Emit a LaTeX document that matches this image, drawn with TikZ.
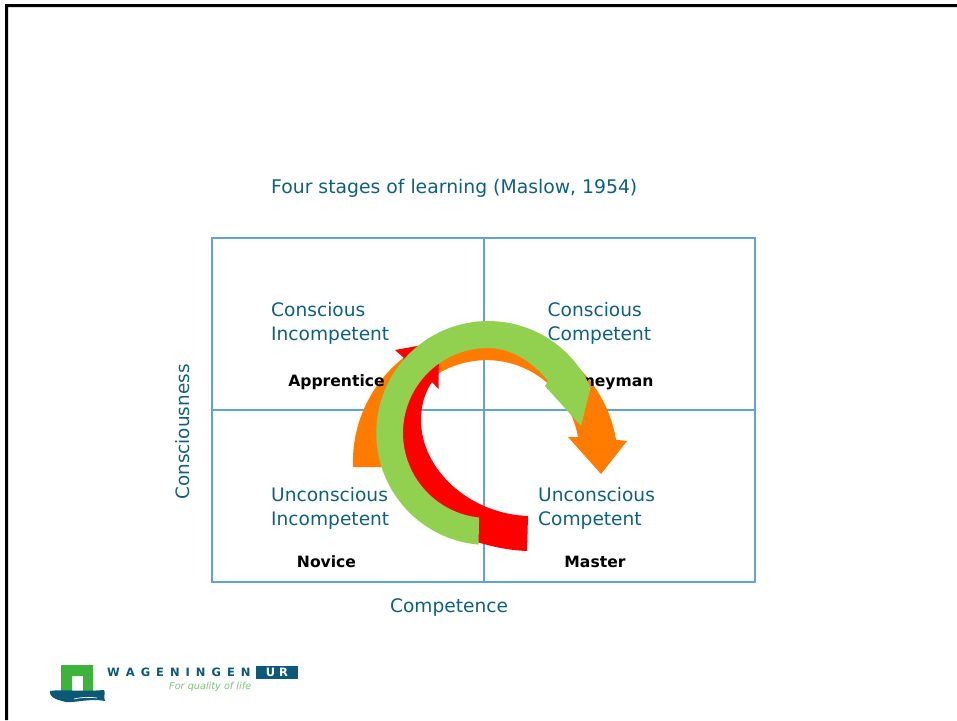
\documentclass[tikz,border=0pt]{standalone}
\usepackage{fontspec}
\setmainfont{DejaVu Sans}
\definecolor{teal1}{HTML}{0F5F80}
\definecolor{grid1}{HTML}{5FA3DA}
\definecolor{garrow}{HTML}{92D050}
\definecolor{oarrow}{HTML}{FF7C00}
\definecolor{logoblue}{HTML}{0B5877}
\definecolor{logogreen}{HTML}{3DB33C}
\definecolor{logolight}{HTML}{7CC47A}
\tikzset{
  lab/.style={text=teal1,font=\fontsize{18.6}{24}\selectfont,anchor=west,align=left,inner sep=0pt},
  rolelab/.style={text=black,font=\bfseries\fontsize{15.6}{18}\selectfont,inner sep=0pt},
}
\begin{document}
\begin{tikzpicture}[x=1pt,y=-1pt]
\useasboundingbox (0,0) rectangle (957,720);
\fill[white] (0,0) rectangle (957,720);
\fill[black] (957,4) -- (5,4) -- (5,720) -- (8,720) -- (8,7) -- (957,7) -- cycle;
% grid
\draw[grid1,line width=2.2pt] (212,238) rectangle (755,582);
\draw[grid1,line width=1.4pt] (484,238) -- (484,582) (212,410) -- (755,410);
% texts
\node[lab,font=\fontsize{18.8}{24}\selectfont] (title) at (271,188) {Four stages of learning (Maslow, 1954)};
\node[lab] (ci) at (271,323) {Conscious\\Incompetent};
\node[lab] (cc) at (547.5,323) {Conscious\\Competent};
\node[lab] (ui) at (271,508) {Unconscious\\Incompetent};
\node[lab] (uc) at (538,508) {Unconscious\\Competent};
\node[lab,anchor=center] (compt) at (449,607.5) {Competence};
\node[lab,anchor=center,rotate=90,font=\fontsize{18.4}{24}\selectfont] (cons) at (183,432) {Consciousness};
% orange arrow
\fill[oarrow] (353,467) arc[start angle=177.8,end angle=350.4,radius=132.5] -- (627,441) -- (601,474) -- (568,437) -- (578,437)
  arc[start angle=-10,end angle=-186,radius=93] -- (394,467) -- cycle;
% role labels lie over the orange arrow, under the green one
\node[rolelab] (app) at (336.5,382.5) {Apprentice};
\node[rolelab] (jou) at (601,382) {Journeyman};
\node[rolelab] (nov) at (326.5,561.5) {Novice};
\node[rolelab] (mas) at (595,561.5) {Master};
% red arrow
\fill[red] (528,516) .. controls (470,514) and (421,470) .. (421,420) .. controls (421,405) and (425,392) .. (432,382)
  -- (438.5,389) -- (439,342) -- (395,350) -- (404,358)
  .. controls (396,380) and (392,405) .. (392,430)
  .. controls (392,480) and (425,525) .. (470,540)
  .. controls (490,546) and (505,550) .. (527,551) -- cycle;
% green arrow
\fill[garrow] (478.5,544.6) arc[start angle=95,end angle=336,radius=112] -- (581,426) -- (545,386) -- (548,381)
  .. controls (532,361) and (510,348) .. (488,348)
  arc[start angle=-90,end angle=-264,radius=85] -- cycle;
% logo
\fill[logogreen] (61,665) -- (93,665) -- (93,693) -- (83,693) -- (83,676) -- (72,676) -- (72,693) -- (61,693) -- cycle;
\fill[logoblue] (50,691) .. controls (62,689) and (80,692) .. (104,690) .. controls (106,693) and (103,696) .. (105,701)
  .. controls (90,698) and (75,703) .. (66,702) .. controls (58,700) and (49,698) .. (50,691) -- cycle;
\draw[white,line width=0.7pt] (74,699) .. controls (82,697) and (90,697) .. (97,698);
\node[inner sep=0pt,anchor=west,text=logoblue,font=\bfseries\fontsize{11.5}{12}\selectfont] (wag) at (107,672.5) {W\hspace{6pt}A\hspace{6pt}G\hspace{6pt}E\hspace{6pt}N\hspace{6pt}I\hspace{6pt}N\hspace{6pt}G\hspace{6pt}E\hspace{6pt}N};
\fill[logoblue] (256,666) rectangle (298,679);
\node[inner sep=0pt,text=white,font=\bfseries\fontsize{11.5}{12}\selectfont] (ur) at (277,672.5) {U\hspace{4pt}R};
\node[inner sep=0pt,anchor=west,text=logolight,font=\itshape\fontsize{9.7}{10}\selectfont] (fq) at (169,687) {For quality of life};
\end{tikzpicture}
\end{document}
